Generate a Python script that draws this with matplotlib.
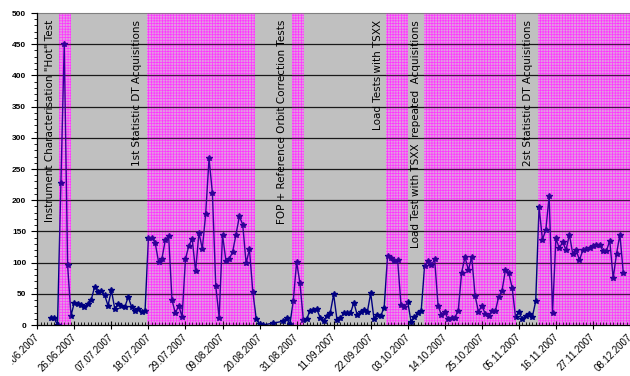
import datetime as dt
import numpy as np
import matplotlib
matplotlib.use('Agg')
import matplotlib.pyplot as plt
import matplotlib.dates as mdates
from matplotlib.patches import Rectangle
from matplotlib.transforms import ScaledTranslation

start = dt.datetime(2007, 6, 15)

# days counted from 15.06.2007, one value per day (some days missing)
days = [4, 5, 6, 7, 8, 9, 10,
        11, 12, 13, 14, 15, 16, 17, 18, 19, 20, 21, 22, 23, 24, 25, 26, 27, 28, 29, 30, 31, 32,
        33, 34, 35, 36, 37, 38, 39, 40, 41, 42, 43, 44, 45, 46, 47, 48, 49, 50, 51, 52, 53, 54,
        55, 56, 57, 58, 59, 60, 61, 62, 63, 64, 65,
        66, 67, 70, 73, 74, 75, 76, 77, 78, 79, 80, 81, 82, 83, 84, 85, 86, 87, 88, 89, 90,
        91, 92, 93, 94, 95, 96, 97, 98, 99, 100, 101, 102, 103, 104, 105, 106, 107, 108, 109,
        110, 111, 112, 113, 114, 115, 116, 117, 118, 119, 120, 121, 122, 123, 124, 125, 126,
        127, 128, 129, 130, 131, 132, 133, 134, 135, 136, 137, 138, 139, 140, 141, 142, 143,
        144, 145, 146, 147, 148, 149, 150, 151, 152, 153, 154, 155, 156, 157, 158, 159, 160,
        161, 162, 163, 164, 165, 166, 167, 168, 169, 170, 171, 172, 173, 174]
values = [12, 11, 0, 227, 450, 96, 15,
          36, 33, 32, 29, 34, 40, 61, 53, 54, 48, 31, 56, 26, 33, 31, 29, 45, 29, 22, 25, 21, 23,
          140, 140, 132, 101, 106, 136, 143, 40, 19, 31, 13, 106, 127, 138, 86, 148, 122, 178, 267, 211, 62, 12,
          145, 103, 106, 117, 145, 174, 161, 99, 121, 53, 10,
          1, 0, 3, 6, 11, 1, 38, 101, 67, 8, 10, 23, 24, 25, 12, 6, 15, 20, 49, 8, 11,
          19, 19, 19, 36, 16, 21, 24, 21, 51, 9, 16, 15, 28, 110, 107, 103, 104, 32, 29,
          37, 5, 13, 19, 23, 94, 102, 96, 105, 31, 16, 21, 9, 12, 12, 23, 84,
          109, 88, 109, 47, 21, 31, 18, 15, 22, 22, 45, 55, 88, 83, 60, 13, 21,
          9, 14, 18, 13, 38, 189, 137, 152, 207, 20, 139, 123, 133, 120, 145, 114, 120,
          104, 120, 122, 124, 127, 128, 129, 118, 119, 135, 75, 114, 145, 84]

# campaign periods (magenta bands), days from 15.06.2007
bands = [(6.3, 10.0), (32.5, 64.6), (75.6, 79.1), (103.6, 110.0), (114.9, 142.2), (148.7, 176.0)]

labels = ['Instrument Characterisation "Hot" Test',
          '1st Statistic DT Acquisitions',
          'FOP + Reference Orbit Correction Tests',
          'Load Tests with TSXX',
          'Load Test with TSXX  repeated  Acquisitions',
          '2st Statistic DT Acquisitions']
label_days = [3.8, 29.7, 72.7, 101.3, 112.6, 145.8]

plt.rcParams['hatch.linewidth'] = 0.5
base = mdates.date2num(start)
x = base + np.array(days)

fig = plt.figure(figsize=(6.3, 3.76), dpi=100)
ax = fig.add_axes([37.3 / 630, 51 / 376, 592.7 / 630, 312 / 376])
ax.set_facecolor('#c0c0c0')

for a, b in bands:
    ax.axvspan(base + a, base + b, facecolor='#dcc4dc', edgecolor='#ff44ff',
               hatch='++++++', lw=0, zorder=1)
    ax.axvspan(base + a, base + b, facecolor='#ff00ff', alpha=0.2, lw=0, zorder=4)

for yv in range(50, 500, 50):
    ax.axhline(yv, color='#1a1a1a', lw=0.9, zorder=2)

ax.plot(x, values, color='#000080', lw=1.0, marker='*', ms=4, zorder=3)

for lab, d in zip(labels, label_days):
    ax.text(base + d, 489, lab, rotation=90, ha='center', va='top',
            fontsize=7.5, family='DejaVu Sans', zorder=6)

ax.set_xlim(base, base + 176)
ax.set_ylim(0, 500)
ax.set_xticks(base + np.arange(0, 177, 11))
ax.set_xticks(base + np.arange(0, 177), minor=True)
ax.xaxis.set_major_formatter(mdates.DateFormatter('%d.%m.%Y'))
ax.set_yticks(np.arange(0, 501, 50))
ax.set_yticks(np.arange(0, 501, 10), minor=True)

ax.tick_params(axis='x', which='major', direction='inout', length=6, width=0.8, labelsize=7, pad=2)
ax.tick_params(axis='x', which='minor', direction='in', length=2, width=0.6)
ax.tick_params(axis='y', which='major', direction='out', length=4, width=0.8, labelsize=6, pad=4)
ax.tick_params(axis='y', which='minor', direction='out', length=2, width=0.6)
shift = ScaledTranslation(-3 / 100, 0, fig.dpi_scale_trans)
for t in ax.get_xticklabels():
    t.set_rotation(45)
    t.set_ha('right')
    t.set_rotation_mode('anchor')
    t.set_family('Liberation Sans')
    t.set_transform(t.get_transform() + shift)
plt.setp(ax.get_yticklabels(), family='Liberation Sans', fontweight='bold')

ax.spines['right'].set_visible(False)
ax.spines['top'].set_color('#808080')
for s in ['left', 'bottom']:
    ax.spines[s].set_color('black')
    ax.spines[s].set_linewidth(0.9)
    ax.spines[s].set_zorder(5)

# the chart frame clips the first date label on the left
fig.patches.append(Rectangle((0, 0), 12 / 630, 44 / 376, transform=fig.transFigure,
                             facecolor='white', edgecolor='none', zorder=10))

fig.savefig('out.png', dpi=100)
